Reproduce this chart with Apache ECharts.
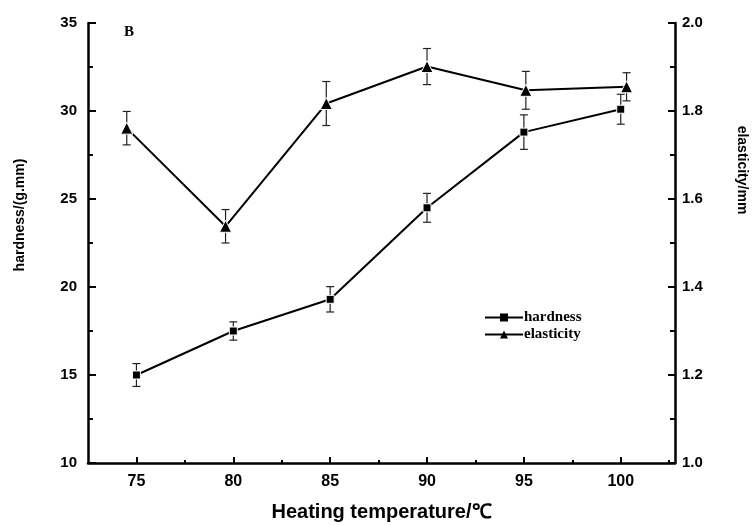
<!DOCTYPE html>
<html>
<head>
<meta charset="utf-8">
<script src="https://cdn.jsdelivr.net/npm/echarts@6/dist/echarts.min.js"></script>
<style>
html,body{margin:0;padding:0;background:#fff;}
#chart{width:753px;height:525px;}
</style>
</head>
<body>
<div id="chart"></div>
<script>
// Data
var xLabels = [75, 80, 85, 90, 95, 100];
var xMinorTicks = [77.5, 82.5, 87.5, 92.5, 97.5, 102.5];
var hardnessX = [75, 80, 85, 90, 95, 100];
var hardness = [15.0, 17.5, 19.3, 24.5, 28.8, 30.1];
var hardnessErr = [0.65, 0.52, 0.72, 0.82, 0.98, 0.85];
var elasticityX = [74.5, 79.6, 84.8, 90.0, 95.1, 100.3];
var elasticity = [1.761, 1.538, 1.817, 1.901, 1.847, 1.855];
var elasticityErr = [0.038, 0.038, 0.05, 0.041, 0.043, 0.032];

function pairs(xs, ys) { return xs.map(function (x, i) { return [x, ys[i]]; }); }
function triples(xs, ys, es) { return xs.map(function (x, i) { return [x, ys[i], es[i]]; }); }

function errRender(params, api) {
  var x = api.value(0), y = api.value(1), e = api.value(2);
  var top = api.coord([x, y + e]);
  var bot = api.coord([x, y - e]);
  var hw = 4;
  var st = { stroke: '#222', lineWidth: 1.2 };
  return {
    type: 'group',
    children: [
      { type: 'line', shape: { x1: top[0], y1: top[1], x2: bot[0], y2: bot[1] }, style: st },
      { type: 'line', shape: { x1: top[0] - hw, y1: top[1], x2: top[0] + hw, y2: top[1] }, style: st },
      { type: 'line', shape: { x1: bot[0] - hw, y1: bot[1], x2: bot[0] + hw, y2: bot[1] }, style: st }
    ]
  };
}

var SANS = 'Liberation Sans, Arial, sans-serif';
var labelFont = { color: '#000', fontFamily: SANS, fontWeight: 'bold', fontSize: 15 };
var axisLine = { show: true, lineStyle: { color: '#000', width: 2.5 } };

var chart = echarts.init(document.getElementById('chart'), null, { renderer: 'canvas' });
chart.setOption({
  backgroundColor: '#fff',
  animation: false,
  grid: { left: 88, right: 78, top: 23, bottom: 62, containLabel: false, outerBoundsMode: 'none' },
  graphic: [
    { type: 'text', left: 124, top: 25, style: { text: 'B', font: 'bold 15px "Liberation Serif", serif', fill: '#000' } }
  ],
  legend: {
    orient: 'vertical',
    left: 479,
    top: 305,
    itemWidth: 38,
    itemHeight: 10,
    itemGap: 2,
    data: ['hardness', 'elasticity'],
    itemStyle: { borderWidth: 0 },
    textStyle: { color: '#000', fontFamily: 'Liberation Serif, serif', fontWeight: 'bold', fontSize: 15, padding: [0, 0, 0, -4] }
  },
  xAxis: [
    {
      type: 'value', min: 72.5, max: 102.8, position: 'bottom',
      axisLine: axisLine,
      axisTick: { show: true, inside: true, length: 6, customValues: xLabels, lineStyle: { color: '#000', width: 2 } },
      axisLabel: { customValues: xLabels, margin: 11, fontSize: 16, color: '#000', fontFamily: SANS, fontWeight: 'bold' },
      splitLine: { show: false },
      name: 'Heating temperature/℃',
      nameLocation: 'middle',
      nameGap: 39,
      nameTextStyle: { color: '#000', fontFamily: SANS, fontWeight: 'bold', fontSize: 20 }
    },
    {
      type: 'value', min: 72.5, max: 102.8, position: 'bottom', gridIndex: 0,
      axisLine: { show: false },
      axisTick: { show: true, inside: true, length: 3, customValues: xMinorTicks, lineStyle: { color: '#000', width: 2 } },
      axisLabel: { show: false },
      splitLine: { show: false }
    }
  ],
  yAxis: [
    {
      type: 'value', position: 'left', min: 10, max: 35, interval: 5,
      axisLine: axisLine,
      axisTick: { show: true, inside: true, length: 8, lineStyle: { color: '#000', width: 2 } },
      minorTick: { show: true, splitNumber: 2, length: 5, lineStyle: { color: '#000', width: 2 } },
      axisLabel: Object.assign({ margin: 11 }, labelFont),
      splitLine: { show: false },
      name: 'hardness/(g.mm)',
      nameLocation: 'middle',
      nameRotate: 90,
      nameGap: 61,
      nameTextStyle: { color: '#000', fontFamily: SANS, fontSize: 14, fontWeight: 'bold', padding: [0, 0, 0, 56] }
    },
    {
      type: 'value', position: 'right', min: 1.0, max: 2.0, interval: 0.2,
      axisLine: axisLine,
      axisTick: { show: true, inside: true, length: 7, lineStyle: { color: '#000', width: 2 } },
      minorTick: { show: true, splitNumber: 2, length: 5, lineStyle: { color: '#000', width: 2 } },
      axisLabel: Object.assign({ margin: 7, formatter: function (v) { return v.toFixed(1); } }, labelFont),
      splitLine: { show: false },
      name: 'elasticity/mm',
      nameLocation: 'middle',
      nameRotate: -90,
      nameGap: 60,
      nameTextStyle: { color: '#000', fontFamily: SANS, fontSize: 14, fontWeight: 'bold', padding: [0, 146, 0, 0] }
    }
  ],
  series: [
    {
      name: 'hardness-err', type: 'custom', xAxisIndex: 0, yAxisIndex: 0, z: 1,
      renderItem: errRender, data: triples(hardnessX, hardness, hardnessErr), silent: true
    },
    {
      name: 'elasticity-err', type: 'custom', xAxisIndex: 0, yAxisIndex: 1, z: 1,
      renderItem: errRender, data: triples(elasticityX, elasticity, elasticityErr), silent: true
    },
    {
      name: 'hardness', type: 'line', xAxisIndex: 0, yAxisIndex: 0, z: 3,
      data: pairs(hardnessX, hardness),
      symbol: 'rect', symbolSize: 8,
      itemStyle: { color: '#000', borderColor: '#fff', borderWidth: 1 },
      lineStyle: { color: '#000', width: 2 }
    },
    {
      name: 'elasticity', type: 'line', xAxisIndex: 0, yAxisIndex: 1, z: 3,
      data: pairs(elasticityX, elasticity),
      symbol: 'triangle', symbolSize: 12,
      itemStyle: { color: '#000', borderColor: '#fff', borderWidth: 1 },
      lineStyle: { color: '#000', width: 2 }
    }
  ]
});
</script>
</body>
</html>
